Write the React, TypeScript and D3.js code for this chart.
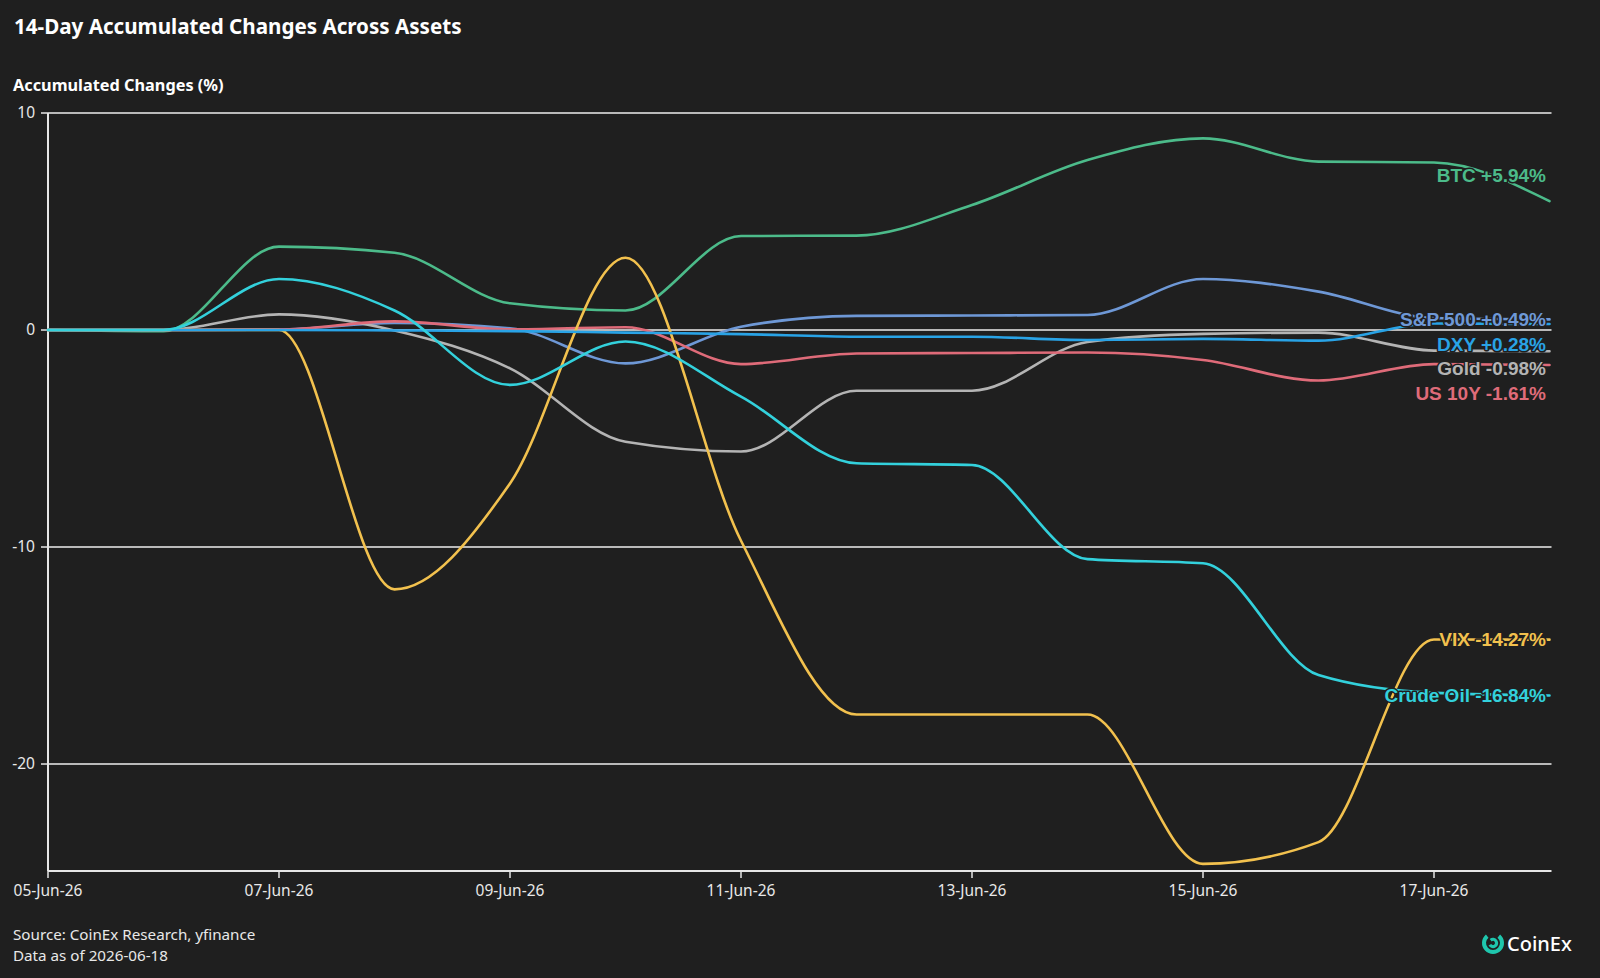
import React from "react";
import * as d3 from "d3";

// Trading days covered by the window
const dates = [
  "2026-06-05", "2026-06-06", "2026-06-07", "2026-06-08", "2026-06-09", "2026-06-10", "2026-06-11",
  "2026-06-12", "2026-06-13", "2026-06-14", "2026-06-15", "2026-06-16", "2026-06-17", "2026-06-18",
];

// Accumulated % change per asset, one value per date
const btc = [0, -0.06, 3.84, 3.56, 1.23, 0.9, 4.33, 4.35, 5.76, 7.83, 8.83, 7.76, 7.72, 5.94];
const sp500 = [0, 0, 0.02, 0.32, 0.08, -1.54, 0.15, 0.65, 0.67, 0.69, 2.35, 1.77, 0.55, 0.49];
const gold = [0, 0, 0.72, -0.02, -1.77, -5.15, -5.6, -2.8, -2.8, -0.55, -0.18, -0.12, -0.95, -0.98];
const us10y = [0, 0, 0.02, 0.4, 0.03, 0.13, -1.57, -1.08, -1.06, -1.04, -1.38, -2.33, -1.57, -1.61];
const vix = [0, 0, 0, -11.95, -7.07, 3.33, -9.71, -17.72, -17.72, -17.72, -24.6, -23.6, -14.26, -14.27];
const dxy = [0, 0, 0, -0.02, -0.05, -0.12, -0.19, -0.31, -0.31, -0.46, -0.41, -0.49, 0.3, 0.28];
const crudeOil = [0, 0, 2.35, 0.9, -2.53, -0.53, -3.07, -6.14, -6.22, -10.56, -10.75, -15.9, -16.72, -16.84];

const yTicks = [10, 0, -10, -20];

const BG = "#1f1f1f";
const W = 1600;
const H = 978;

const series = [
  { name: "BTC", values: btc, color: "#4cbb8a" },
  { name: "S&P 500", values: sp500, color: "#6e98d6" },
  { name: "Gold", values: gold, color: "#b4b4b4" },
  { name: "US 10Y", values: us10y, color: "#df6b79" },
  { name: "VIX", values: vix, color: "#f2c14e" },
  { name: "DXY", values: dxy, color: "#29a3e6" },
  { name: "Crude Oil", values: crudeOil, color: "#33d1dc" },
];

// Extra vertical shift for tags that would sit on their own line
const labelNudge: Record<string, number> = { BTC: -26 };

const parse = d3.utcParse("%Y-%m-%d");
const fmt = d3.utcFormat("%d-%b-%y");

export default function App() {
  const days = dates.map((d) => parse(d) as Date);
  const plotL = 48;
  const plotR = 1549.5;
  const plotT = 113;
  const plotB = 871;

  const x = d3.scaleUtc().domain([days[0], days[days.length - 1]]).range([plotL, plotR]);
  const y = d3.scaleLinear().domain([-24.93, 10]).range([plotB, plotT]);

  const line = d3
    .line<number>()
    .x((_, i) => x(days[i]))
    .y((v) => y(v))
    .curve(d3.curveMonotoneX);

  const xTicks = days.filter((_, i) => i % 2 === 0);

  // End-of-line tags, pushed apart so they never overlap
  const gap = 24.5;
  const tags = series
    .map((s) => {
      const last = s.values[s.values.length - 1];
      return {
        ...s,
        last,
        ty: y(last) + (labelNudge[s.name] || 0),
        text: `${s.name} ${last >= 0 ? "+" : ""}${last.toFixed(2)}%`,
      };
    })
    .sort((a, b) => a.ty - b.ty);
  for (let i = 1; i < tags.length; i++) {
    if (tags[i].ty < tags[i - 1].ty + gap) tags[i].ty = tags[i - 1].ty + gap;
  }

  const uiFont = "'Noto Sans', 'Open Sans', sans-serif";
  const tagFont = "'Liberation Sans', Arial, sans-serif";

  // CoinEx mark: open outer ring with an inner hook
  const ringArc = d3.arc()({
    innerRadius: 7,
    outerRadius: 11,
    startAngle: (40 * Math.PI) / 180,
    endAngle: (320 * Math.PI) / 180,
  } as any) as string;
  const innerArc = d3.arc()({
    innerRadius: 2,
    outerRadius: 5.2,
    startAngle: (-40 * Math.PI) / 180,
    endAngle: (240 * Math.PI) / 180,
  } as any) as string;

  return (
    <svg
      width={W}
      height={H}
      style={{ position: "absolute", left: 0, top: 0, display: "block" }}
      fontFamily={uiFont}
    >
      <rect x={0} y={0} width={W} height={H} fill={BG} />

      <text x={14} y={34} fill="#ffffff" fontSize={20.6} fontWeight={700}>
        14-Day Accumulated Changes Across Assets
      </text>
      <text x={13} y={91} fill="#ffffff" fontSize={16.3} fontWeight={700}>
        Accumulated Changes (%)
      </text>

      {/* horizontal grid */}
      {yTicks.map((t) => (
        <line key={`g${t}`} x1={plotL} x2={plotR + 2} y1={y(t)} y2={y(t)} stroke="#eeeeee" strokeWidth={1.5} />
      ))}

      {/* y axis */}
      <line x1={plotL} x2={plotL} y1={plotT} y2={plotB} stroke="#e6e6e6" strokeWidth={2} />
      {yTicks.map((t) => (
        <g key={`y${t}`}>
          <line x1={plotL - 7} x2={plotL} y1={y(t)} y2={y(t)} stroke="#e6e6e6" strokeWidth={1.5} />
          <text x={plotL - 13} y={y(t)} dy="0.35em" textAnchor="end" fill="#e8e8e8" fontSize={15.5}>
            {String(t)}
          </text>
        </g>
      ))}

      {/* x axis */}
      <line x1={plotL} x2={plotR + 2} y1={plotB} y2={plotB} stroke="#e6e6e6" strokeWidth={2} />
      {xTicks.map((d) => (
        <g key={`x${d.getTime()}`}>
          <line x1={x(d)} x2={x(d)} y1={plotB} y2={plotB + 7} stroke="#e6e6e6" strokeWidth={1.5} />
          <text x={x(d)} y={895.5} textAnchor="middle" fill="#e8e8e8" fontSize={15.5}>
            {fmt(d)}
          </text>
        </g>
      ))}

      {/* series */}
      {series.map((s) => (
        <path
          key={s.name}
          d={line(s.values) as string}
          fill="none"
          stroke={s.color}
          strokeWidth={2.6}
          strokeLinejoin="round"
          strokeLinecap="round"
        />
      ))}

      {/* end tags */}
      {tags.map((t) => (
        <text
          key={`t${t.name}`}
          x={1546}
          y={t.ty}
          dy="0.35em"
          textAnchor="end"
          fill={t.color}
          stroke={BG}
          strokeWidth={3}
          strokeLinejoin="round"
          paintOrder="stroke"
          fontFamily={tagFont}
          fontWeight={700}
          fontSize={19}
        >
          {t.text}
        </text>
      ))}

      {/* footer */}
      <text x={13} y={940} fill="#e8e8e8" fontSize={15.2}>
        Source: CoinEx Research, yfinance
      </text>
      <text x={13} y={961} fill="#e8e8e8" fontSize={15.2}>
        Data as of 2026-06-18
      </text>

      <g transform="translate(1493,943)">
        <path d={ringArc} fill="#1fc6ad" />
        <path d={innerArc} fill="#1fc6ad" />
      </g>
      <text x={1507} y={951} fill="#ffffff" fontSize={20} fontWeight={500}>
        CoinEx
      </text>
    </svg>
  );
}
